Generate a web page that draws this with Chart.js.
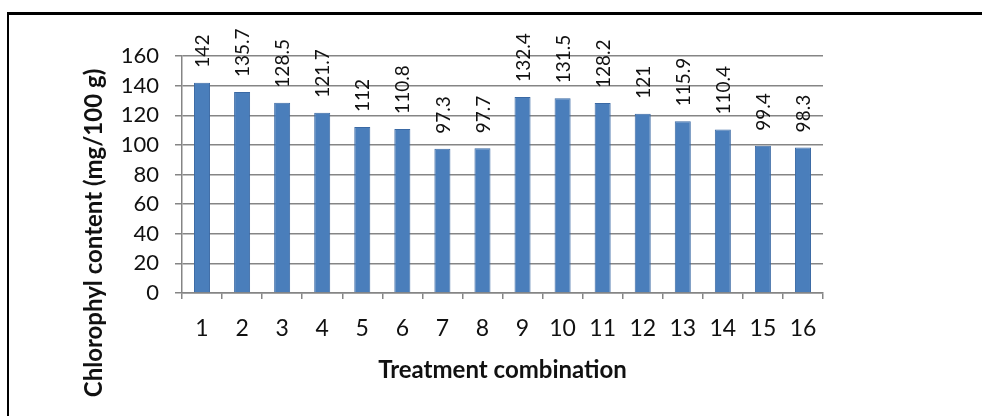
<!DOCTYPE html>
<html>
<head>
<meta charset="utf-8">
<script src="https://cdn.jsdelivr.net/npm/chart.js@4"></script>
<style>
    html, body { margin: 0; padding: 0; background: #fff; }
    #wrap { position: relative; width: 982px; height: 416px; overflow: hidden; }
    #frame {
        position: absolute; left: 7px; top: 12px; width: 1000px; height: 420px;
        border-top: 3px solid #000; border-left: 2px solid #000;
    }
    canvas { position: absolute; left: 0; top: 0; }
</style>
</head>
<body>
<div id="wrap">
    <div id="frame"></div>
    <canvas id="chlChart" width="982" height="416"></canvas>
</div>
<script>
// ── Data ──────────────────────────────────────────────────────
const treatments  = ['1','2','3','4','5','6','7','8','9','10','11','12','13','14','15','16'];
const chlorophyll = [142, 135.7, 128.5, 121.7, 112, 110.8, 97.3, 97.7, 132.4, 131.5, 128.2, 121, 115.9, 110.4, 99.4, 98.3];
const yTicks      = [0, 20, 40, 60, 80, 100, 120, 140, 160];

const xTitle = 'Treatment combination';
const yTitle = 'Chlorophyl content (mg/100 g)';

const FONT = 'Lato, "Open Sans", sans-serif';
const GRID = '#858585';

// ── Value labels (rotated, above each bar) ────────────────────
const valueLabels = {
    id: 'valueLabels',
    afterDatasetsDraw(chart) {
        const ctx  = chart.ctx;
        const meta = chart.getDatasetMeta(0);
        ctx.save();
        ctx.fillStyle    = '#111';
        ctx.font         = '19px ' + FONT;
        ctx.textAlign    = 'left';
        ctx.textBaseline = 'middle';
        meta.data.forEach((bar, i) => {
            ctx.save();
            ctx.translate(bar.x + 1, bar.y - 15);
            ctx.rotate(-Math.PI / 2);
            ctx.fillText(String(chlorophyll[i]), 0, 0);
            ctx.restore();
        });
        ctx.restore();
    }
};

// ── Y axis title (sits lower than the plot centre in the original) ──
const yAxisTitle = {
    id: 'yAxisTitle',
    afterDraw(chart) {
        const ctx = chart.ctx;
        ctx.save();
        ctx.fillStyle    = '#111';
        ctx.font         = 'bold 24px ' + FONT;
        ctx.textAlign    = 'center';
        ctx.textBaseline = 'middle';
        ctx.translate(94, 233);
        ctx.rotate(-Math.PI / 2);
        ctx.fillText(yTitle, 0, 0);
        ctx.restore();
    }
};

// ── Chart init ────────────────────────────────────────────────
const chlChart = new Chart(document.getElementById('chlChart'), {
    type: 'bar',
    data: {
        labels: treatments,
        datasets: [{
            data: chlorophyll,
            backgroundColor: '#4a7ebb',
            borderColor: '#3a69a4',
            borderWidth: 1,
            barPercentage: 0.4,
            categoryPercentage: 1
        }]
    },
    options: {
        responsive: false,
        animation: false,
        devicePixelRatio: 1,
        layout: { padding: { left: 0, right: 159, top: 56, bottom: 0 } },
        plugins: { legend: { display: false }, tooltip: { enabled: false } },
        scales: {
            x: {
                ticks: { color: '#111', font: { family: FONT, size: 23 }, padding: 16, autoSkip: false },
                grid:  { drawOnChartArea: false, color: GRID, lineWidth: 1.5, tickLength: 6 },
                border: { color: GRID, width: 1.5 },
                title: {
                    display: true, text: xTitle, color: '#111',
                    font: { family: FONT, size: 24, weight: 'bold' },
                    padding: { top: 0, bottom: 31 }
                },
                afterFit(scale) { scale.height = 123; }
            },
            y: {
                min: 0, max: 160,
                afterBuildTicks(scale) { scale.ticks = yTicks.map(v => ({ value: v })); },
                ticks: { color: '#111', font: { family: FONT, size: 22 }, padding: 16, autoSkip: false },
                grid:  { color: GRID, lineWidth: 1.5, tickLength: 7 },
                border: { color: GRID, width: 1.5 },
                afterFit(scale) { scale.width = 182; }
            }
        }
    },
    plugins: [valueLabels, yAxisTitle]
});
</script>
</body>
</html>
